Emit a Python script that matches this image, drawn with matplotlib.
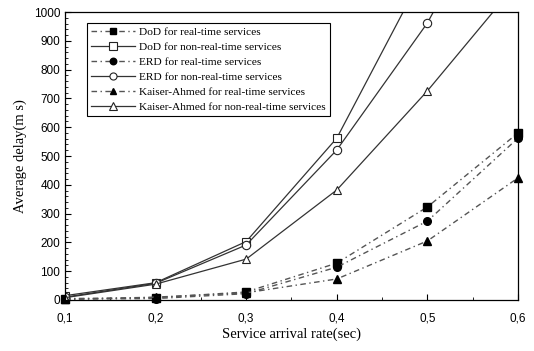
import numpy as np
import matplotlib
matplotlib.use('Agg')
import matplotlib.pyplot as plt
from matplotlib.ticker import MultipleLocator, FuncFormatter

rate = [0.1, 0.2, 0.3, 0.4, 0.5, 0.6]

dod_rt = [5, 8, 28, 128, 323, 580]
dod_nrt = [15, 60, 203, 562, 1160, 2000]
erd_rt = [3, 5, 22, 114, 274, 562]
erd_nrt = [10, 58, 191, 521, 962, 1540]
ka_rt = [2, 10, 25, 73, 205, 424]
ka_nrt = [8, 55, 142, 382, 726, 1104]

labels = ["DoD for real-time services",
          "DoD for non-real-time services",
          "ERD for real-time services",
          "ERD for non-real-time services",
          "Kaiser-Ahmed for real-time services",
          "Kaiser-Ahmed for non-real-time services"]

fig = plt.figure(figsize=(5.34, 3.51), dpi=100, facecolor='w')
ax = fig.add_axes([0.1217, 0.1453, 0.8483, 0.8205])

series = [(dod_rt, 's', True), (dod_nrt, 's', False),
          (erd_rt, 'o', True), (erd_nrt, 'o', False),
          (ka_rt, '^', True), (ka_nrt, '^', False)]

for (vals, mk, rt), lab in zip(series, labels):
    if rt:
        ax.plot(rate, vals, color='#555555', linestyle=(0, (4, 2.5, 1, 2.5)), linewidth=1.0,
                marker=mk, markersize=5.5, markerfacecolor='black', markeredgecolor='black',
                label=lab, clip_on=False)
    else:
        ax.plot(rate, vals, color='#333333', linestyle='-', linewidth=0.9,
                marker=mk, markersize=6, markerfacecolor='white', markeredgecolor='#222222',
                markeredgewidth=0.8, label=lab)

ax.set_xlim(0.1, 0.6)
ax.set_ylim(0, 1000)
ax.xaxis.set_major_locator(MultipleLocator(0.1))
ax.xaxis.set_minor_locator(MultipleLocator(0.05))
ax.yaxis.set_major_locator(MultipleLocator(100))
ax.yaxis.set_minor_locator(MultipleLocator(20))
ax.xaxis.set_major_formatter(FuncFormatter(lambda v, p: ("%.1f" % v).replace('.', ',')))
ax.tick_params(which='both', direction='in', top=False, right=False,
               labelsize=8.5, labelfontfamily='Liberation Sans')
ax.tick_params(which='major', length=4, width=0.8)
ax.tick_params(which='minor', length=2.5, width=0.6)
ax.tick_params(axis='x', pad=9)
for s in ax.spines.values():
    s.set_linewidth(0.9)

ax.set_xlabel("Service arrival rate(sec)", fontsize=10.5, family='Liberation Serif', labelpad=2)
ax.set_ylabel("Average delay(m s)", fontsize=10.5, family='Liberation Serif', labelpad=5)

leg = ax.legend(loc='upper left', bbox_to_anchor=(0.035, 0.982),
                prop={'family': 'Liberation Serif', 'size': 8.2},
                handlelength=3.9, handletextpad=0.4, borderpad=0.35, labelspacing=0.45,
                markerscale=0.85,
                fancybox=False, edgecolor='black', framealpha=1)
leg.get_frame().set_linewidth(0.8)

plt.savefig('out.png', dpi=100)
